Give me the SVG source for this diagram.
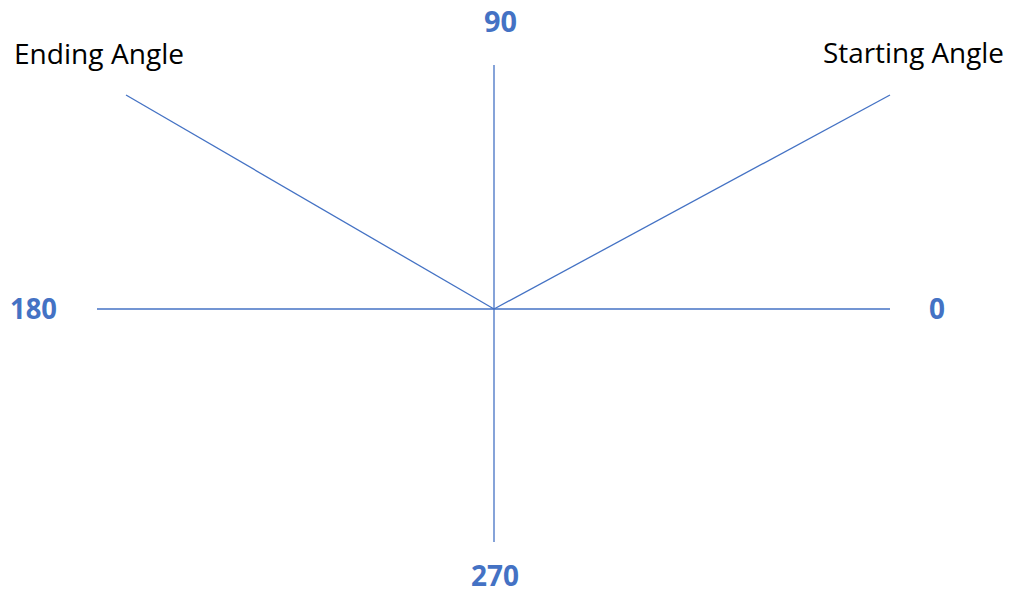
<svg xmlns="http://www.w3.org/2000/svg" width="1009" height="592" viewBox="0 0 1009 592">
<style>
.ln{stroke:#4472C4;stroke-width:1.3;fill:none}
.lab{font-family:"Open Sans","Liberation Sans",sans-serif;font-size:28px;fill:#000}
.num{font-family:"Open Sans","Liberation Sans",sans-serif;font-size:29px;font-weight:bold;fill:#4472C4}
</style>
<rect width="1009" height="592" fill="#fff"/>
<g id="connectors">
<line class="ln" x1="97" y1="309" x2="890" y2="309"/>
<line class="ln" x1="494" y1="65" x2="494" y2="542"/>
<line class="ln" x1="494" y1="309" x2="126" y2="95"/>
<line class="ln" x1="494" y1="309" x2="890" y2="95"/>
</g>
<g id="ending"><text class="lab" x="14" y="64" textLength="170" lengthAdjust="spacingAndGlyphs">Ending Angle</text></g>
<g id="starting"><text class="lab" x="823" y="63" textLength="181" lengthAdjust="spacingAndGlyphs">Starting Angle</text></g>
<g id="l90"><text class="num" x="484" y="32" textLength="33" lengthAdjust="spacingAndGlyphs">90</text></g>
<g id="l180"><text class="num" x="10" y="319" textLength="47" lengthAdjust="spacingAndGlyphs">180</text></g>
<g id="l0"><text class="num" x="929" y="319" textLength="16" lengthAdjust="spacingAndGlyphs">0</text></g>
<g id="l270"><text class="num" x="471" y="586" textLength="48" lengthAdjust="spacingAndGlyphs">270</text></g>
</svg>
